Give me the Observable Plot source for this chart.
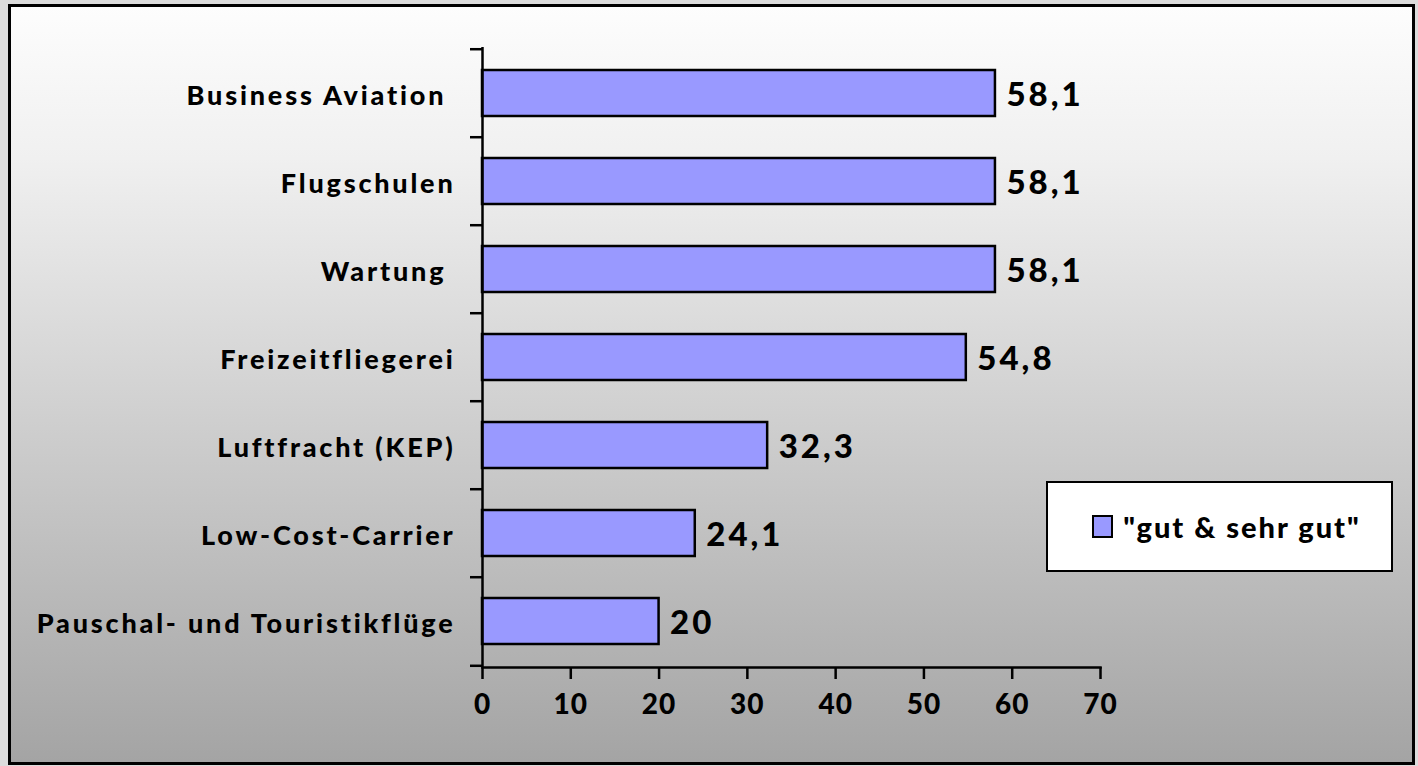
<!DOCTYPE html>
<html>
<head>
<meta charset="utf-8">
<script src="https://cdn.jsdelivr.net/npm/d3@7"></script>
<script src="https://cdn.jsdelivr.net/npm/@observablehq/plot@0.6"></script>
<style>
  html, body { margin: 0; padding: 0; background: #dcdcdc; width: 1418px; height: 766px; overflow: hidden; }
  #frame { position: absolute; left: 8px; top: 4px; width: 1401px; height: 755px; border: 3px solid #000;
    background: linear-gradient(to bottom, #fdfdfd 0%, #f0f0f0 20%, #a4a4a4 100%); }
  #chart { position: absolute; left: 0; top: 0; }
  #chart svg text { white-space: pre; }
  #chart g[aria-label="y-axis tick label"] { letter-spacing: 2.8px; }
  #chart g[aria-label="text"] { letter-spacing: 3px; }
  #chart g[aria-label="x-axis tick label"] { letter-spacing: 1px; }
  #legend { position: absolute; left: 1046px; top: 481px; width: 329px; padding-left: 14px; height: 87px; background: #fff;
    border: 2px solid #000; display: flex; align-items: center; justify-content: center;
    font-family: Lato, sans-serif; font-weight: 900; font-size: 29px; color: #000; letter-spacing: 2px; }
  #legend .sw { width: 17px; height: 19px; background: #9999ff; border: 2px solid #000; margin-right: 10px; }
</style>
</head>
<body>
<div id="frame"></div>
<div id="chart"></div>
<div id="legend"><span class="sw"></span><span>"gut &amp; sehr gut"</span></div>
<script>
const categories = ["Business Aviation ", "Flugschulen", "Wartung ", "Freizeitfliegerei", "Luftfracht (KEP)", "Low-Cost-Carrier", "Pauschal- und Touristikflüge"];
const values = [58.1, 58.1, 58.1, 54.8, 32.3, 24.1, 20];
const xTicks = [0, 10, 20, 30, 40, 50, 60, 70];

const data = categories.map((c, i) => ({category: c, value: values[i]}));
const fmt = v => String(v).replace(".", ",");

const W = 1418, H = 766, mt = 47, mb = 99, ml = 482, mr = 318;
const halfStep = (H - mt - mb) / categories.length / 2;
const font = "Lato, sans-serif";

const chart = Plot.plot({
  width: W, height: H,
  marginTop: mt, marginBottom: mb, marginLeft: ml, marginRight: mr,
  style: {background: "transparent", fontFamily: font, fontWeight: 900, color: "#000", overflow: "visible"},
  x: {domain: [0, 70], label: null},
  y: {domain: categories, label: null, paddingInner: 0.48, paddingOuter: 0.24},
  marks: [
    Plot.barX(data, {x: "value", y: "category", fill: "#9999ff", stroke: "#000", strokeWidth: 2.5}),
    Plot.text(data, {x: "value", y: "category", text: d => fmt(d.value), textAnchor: "start", dx: 11, dy: 2, fontSize: 33, fontWeight: 900, fill: "#000"}),
    Plot.ruleX([0], {stroke: "#000", strokeWidth: 2.5}),
    Plot.axisY({tickSize: 0, tickPadding: 27, dy: 3, fontSize: 27, fontWeight: 900, textAnchor: "end"}),
    Plot.axisY({tickSize: 12, text: null, dy: -halfStep, strokeWidth: 2.5}),
    Plot.axisY([categories[categories.length - 1]], {tickSize: 12, text: null, dy: halfStep, strokeWidth: 2.5}),
    Plot.axisX({ticks: xTicks, tickSize: 12, tickPadding: 15, fontSize: 28, fontWeight: 900, strokeWidth: 2.5}),
    Plot.frame({anchor: "bottom", stroke: "#000", strokeWidth: 2.5})
  ]
});
document.getElementById("chart").appendChild(chart);
</script>
</body>
</html>
